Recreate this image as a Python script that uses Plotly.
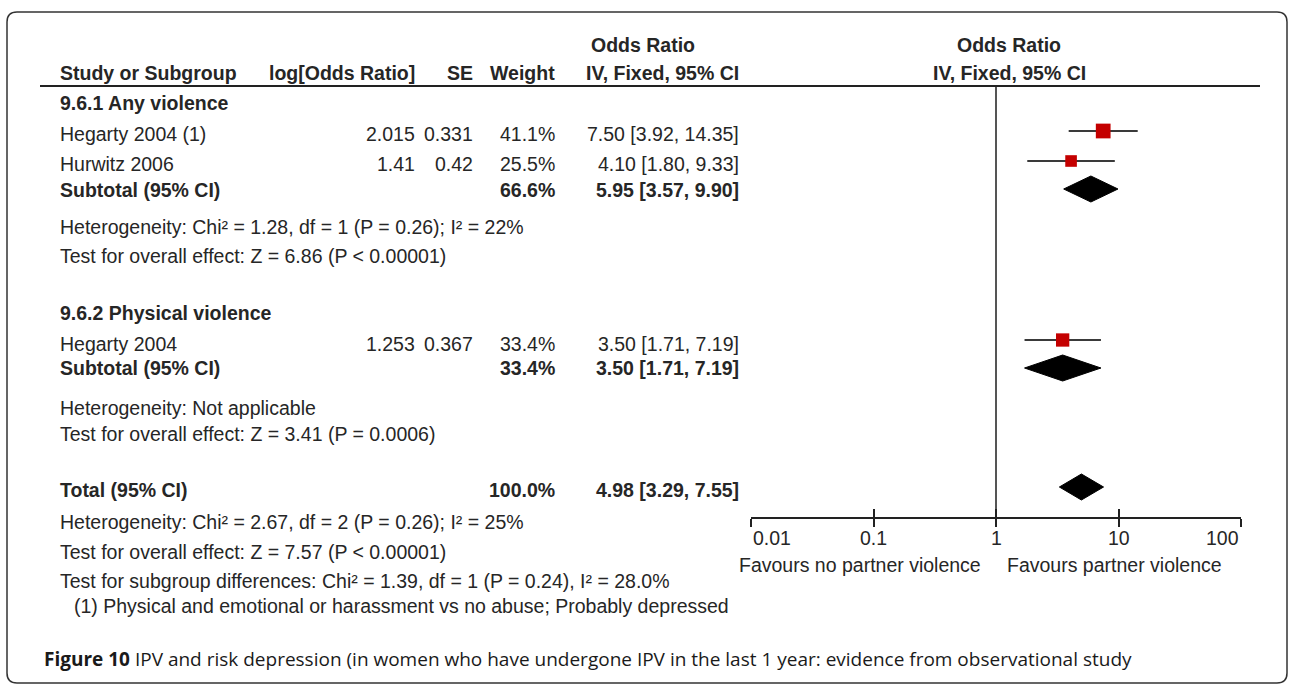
import math
import plotly.graph_objects as go

# data
study_names = ["Hegarty 2004 (1)", "Hurwitz 2006", "Hegarty 2004"]
study_log_or = [2.015, 1.41, 1.253]
study_se = [0.331, 0.42, 0.367]
study_weight = [41.1, 25.5, 33.4]
study_or = [7.50, 4.10, 3.50]
study_lo = [3.92, 1.80, 1.71]
study_hi = [14.35, 9.33, 7.19]

pooled_labels = ["Subtotal (95% CI)", "Subtotal (95% CI)", "Total (95% CI)"]
pooled_weight = [66.6, 33.4, 100.0]
pooled_or = [5.95, 3.50, 4.98]
pooled_lo = [3.57, 1.71, 3.29]
pooled_hi = [9.90, 7.19, 7.55]

subgroup_titles = ["9.6.1 Any violence", "9.6.2 Physical violence"]
stat_lines = [
    "Heterogeneity: Chi² = 1.28, df = 1 (P = 0.26); I² = 22%",
    "Test for overall effect: Z = 6.86 (P < 0.00001)",
    "Heterogeneity: Not applicable",
    "Test for overall effect: Z = 3.41 (P = 0.0006)",
    "Heterogeneity: Chi² = 2.67, df = 2 (P = 0.26); I² = 25%",
    "Test for overall effect: Z = 7.57 (P < 0.00001)",
    "Test for subgroup differences: Chi² = 1.39, df = 1 (P = 0.24), I² = 28.0%",
]
footnote = "(1) Physical and emotional or harassment vs no abuse; Probably depressed"
caption = "IPV and risk depression (in women who have undergone IPV in the last 1 year: evidence from observational study"

tick_values = [0.01, 0.1, 1, 10, 100]
tick_labels = ["0.01", "0.1", "1", "10", "100"]
favours = ["Favours no partner violence", "Favours partner violence"]

# layout (pixels from the top / left of the 1290x690 canvas)
W, H = 1290, 690
AXIS_Y = 517
HEADER_Y = 86
study_mark_y = [131, 161, 340]
study_text_y = [134, 164, 344]
pooled_mark_y = [189, 368, 487]
pooled_text_y = [190, 368, 490]
subgroup_y = [103, 313]
stat_y = [227, 256, 408, 434, 522, 552, 581]
col_logor, col_se, col_weight, col_ci = 417, 475, 557, 741
LEFT = 58
TXT = "#262626"
FONT = "Liberation Sans, Arial, sans-serif"
FS = 19.5


def px(x):
    return x / W


def py(y):
    return 1 - y / H


def ci_text(o, lo, hi):
    return "{:.2f} [{:.2f}, {:.2f}]".format(o, lo, hi)


fig = go.Figure()

# null line at OR = 1
fig.add_trace(go.Scatter(x=[1, 1], y=[HEADER_Y, AXIS_Y], mode="lines", xaxis="x2",
                         line=dict(color="#555555", width=2), hoverinfo="skip"))

# study confidence intervals and weighted squares
for i in range(len(study_names)):
    fig.add_trace(go.Scatter(x=[study_lo[i], study_hi[i]], y=[study_mark_y[i]] * 2,
                             mode="lines", line=dict(color="#3a3a3a", width=2),
                             hoverinfo="skip"))
fig.add_trace(go.Scatter(
    x=study_or, y=study_mark_y, mode="markers",
    marker=dict(symbol="square", color="#c40000", opacity=1,
                size=[2.3 * math.sqrt(w) for w in study_weight],
                line=dict(width=0)),
    hoverinfo="skip"))

# pooled diamonds
half_h = 13
for i in range(len(pooled_or)):
    yc = pooled_mark_y[i]
    fig.add_trace(go.Scatter(
        x=[pooled_lo[i], pooled_or[i], pooled_hi[i], pooled_or[i], pooled_lo[i]],
        y=[yc, yc - half_h, yc, yc + half_h, yc],
        mode="lines", fill="toself", fillcolor="black",
        line=dict(color="black", width=1), hoverinfo="skip"))

ann = []


def text(x, y, s, anchor="left", bold=False, size=FS, color=TXT, family=FONT):
    ann.append(dict(x=px(x), y=py(y), xref="paper", yref="paper", text="<b>%s</b>" % s if bold else s,
                    showarrow=False, xanchor=anchor, yanchor="middle",
                    font=dict(family=family, size=size, color=color)))


# column headers
text(643, 45, "Odds Ratio", "center", True)
text(LEFT, 73, "Study or Subgroup", bold=True)
text(col_logor, 73, "log[Odds Ratio]", "right", True)
text(col_se, 73, "SE", "right", True)
text(col_weight, 73, "Weight", "right", True)
text(col_ci, 73, "IV, Fixed, 95% CI", "right", True)
text(1009, 45, "Odds Ratio", "center", True)
text(1009, 73, "IV, Fixed, 95% CI", "center", True)

for t, y in zip(subgroup_titles, subgroup_y):
    text(LEFT, y, t, bold=True)

for i in range(len(study_names)):
    y = study_text_y[i]
    text(LEFT, y, study_names[i])
    text(col_logor, y, str(study_log_or[i]), "right")
    text(col_se, y, str(study_se[i]), "right")
    text(col_weight, y, "{:.1f}%".format(study_weight[i]), "right")
    text(col_ci, y, ci_text(study_or[i], study_lo[i], study_hi[i]), "right")

for i in range(len(pooled_labels)):
    y = pooled_text_y[i]
    text(LEFT, y, pooled_labels[i], bold=True)
    text(col_weight, y, "{:.1f}%".format(pooled_weight[i]), "right", True)
    text(col_ci, y, ci_text(pooled_or[i], pooled_lo[i], pooled_hi[i]), "right", True)

for s, y in zip(stat_lines, stat_y):
    text(LEFT, y, s)
text(72, 606, footnote)

# x axis tick labels and favours labels
for v, lab in zip(tick_values, tick_labels):
    anchor = "left" if v == tick_values[0] else ("right" if v == tick_values[-1] else "center")
    ann.append(dict(x=math.log10(v), y=py(538), xref="x", yref="paper", text=lab,
                    showarrow=False, xanchor=anchor, yanchor="middle",
                    font=dict(family=FONT, size=FS, color=TXT)))
text(983, 565, favours[0], "right")
text(1005, 565, favours[1], "left")

# caption
text(42, 659, "<b>Figure 10</b> " + caption, size=19, color="#1a1a1a",
     family="Open Sans, Noto Sans, sans-serif")

axis_common = dict(type="log", range=[-2, 2], domain=[px(751), px(1241)],
                   showgrid=False, zeroline=False, showticklabels=False,
                   tickvals=tick_values, ticklen=8, tickwidth=2, tickcolor="#222222")

fig.update_layout(
    width=W, height=H, margin=dict(l=0, r=0, t=0, b=0),
    paper_bgcolor="white", plot_bgcolor="rgba(0,0,0,0)", showlegend=False,
    xaxis=dict(axis_common, anchor="y", ticks="outside", showline=True,
               linecolor="#222222", linewidth=2),
    xaxis2=dict(axis_common, anchor="y", overlaying="x", ticks="inside", showline=False),
    yaxis=dict(range=[AXIS_Y, 0], domain=[py(AXIS_Y), 1], visible=False),
    annotations=ann,
    shapes=[
        dict(type="line", xref="paper", yref="paper", x0=px(40), x1=px(1260),
             y0=py(HEADER_Y), y1=py(HEADER_Y), line=dict(color="#222222", width=2)),
        dict(type="path", xref="paper", yref="paper",
             path="M {a},{t} L {b},{t} Q {r},{t} {r},{t2} L {r},{bo2} Q {r},{bo} {b},{bo} "
                  "L {a},{bo} Q {l},{bo} {l},{bo2} L {l},{t2} Q {l},{t} {a},{t} Z".format(
                      l=px(7), a=px(17), b=px(1277), r=px(1287),
                      t=py(12), t2=py(22), bo=py(683), bo2=py(673)),
             line=dict(color="#333333", width=1.5)),
    ],
)

fig.write_html("out.html", config={"displayModeBar": False},
               post_script="document.body.style.margin = '0px';")
